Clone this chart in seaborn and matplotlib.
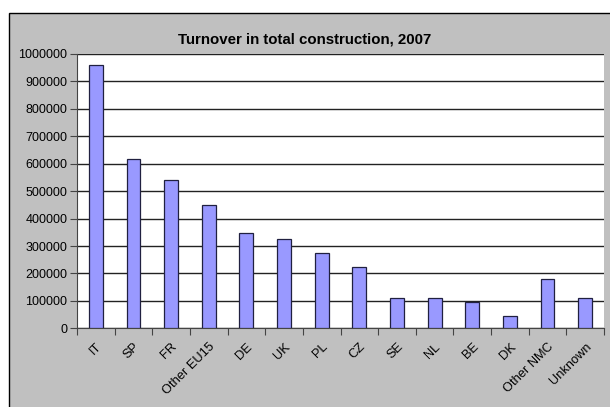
import matplotlib
matplotlib.use("Agg")
import matplotlib.pyplot as plt
import matplotlib.patches as mpatches
from matplotlib.ticker import MultipleLocator, FixedLocator
import seaborn as sns
import pandas as pd

categories = ["IT", "SP", "FR", "Other EU15", "DE", "UK", "PL", "CZ",
              "SE", "NL", "BE", "DK", "Other NMC", "Unknown"]
values = [960000, 617000, 539000, 448000, 349000, 325000, 274000, 225000,
          110000, 110000, 95000, 45000, 179000, 110000]
title = "Turnover in total construction, 2007"

plt.rcParams['font.family'] = ['Liberation Sans', 'DejaVu Sans']

df = pd.DataFrame({"cat": categories, "val": values})

fig = plt.figure(figsize=(6.1, 4.07), dpi=100)
fig.patch.set_facecolor("white")
# grey chart area with black border (clipped on right/bottom)
bg = mpatches.Rectangle((9 / 610, -0.05), 1.1, 1 - 13 / 407 + 0.05,
                        transform=fig.transFigure, facecolor="#c0c0c0",
                        edgecolor="black", linewidth=1.0, zorder=-10)
fig.add_artist(bg)

ax = fig.add_axes([77 / 610, 1 - 328.3 / 407, (604 - 77) / 610, (328.3 - 54) / 407])
ax.set_facecolor("white")

sns.barplot(data=df, x="cat", y="val", ax=ax, color="#9999ff", saturation=1,
            width=0.37, edgecolor="#202040", linewidth=0.9, zorder=3)

ax.set_ylim(0, 1000000)
ax.set_xlim(-0.5, len(categories) - 0.5)
ax.yaxis.set_major_locator(MultipleLocator(100000))
ax.yaxis.grid(True, color="#222222", linewidth=1.0, zorder=1)
ax.set_axisbelow(True)
ax.set_xlabel("")
ax.set_ylabel("")

for s in ["top", "right"]:
    ax.spines[s].set_visible(False)
ax.spines["left"].set_color("#444444")
ax.spines["bottom"].set_color("#444444")

ax.ticklabel_format(axis="y", style="plain")
ax.tick_params(axis="y", direction="out", length=5, width=0.8, color="#444444",
               labelsize=9, pad=2)
ax.tick_params(axis="x", which="major", length=0, labelsize=9.3, pad=9)
ax.xaxis.set_minor_locator(FixedLocator([i - 0.5 for i in range(len(categories) + 1)]))
ax.tick_params(axis="x", which="minor", direction="out", length=5, width=0.8,
               color="#444444")
ax.set_xticks(range(len(categories)))
ax.set_xticklabels(categories, rotation=45, ha="right", rotation_mode="anchor")

fig.text(0.5, 1 - 40 / 407, title, ha="center", va="center",
         fontsize=10.8, fontweight="bold")

fig.savefig("out.png", dpi=100)
